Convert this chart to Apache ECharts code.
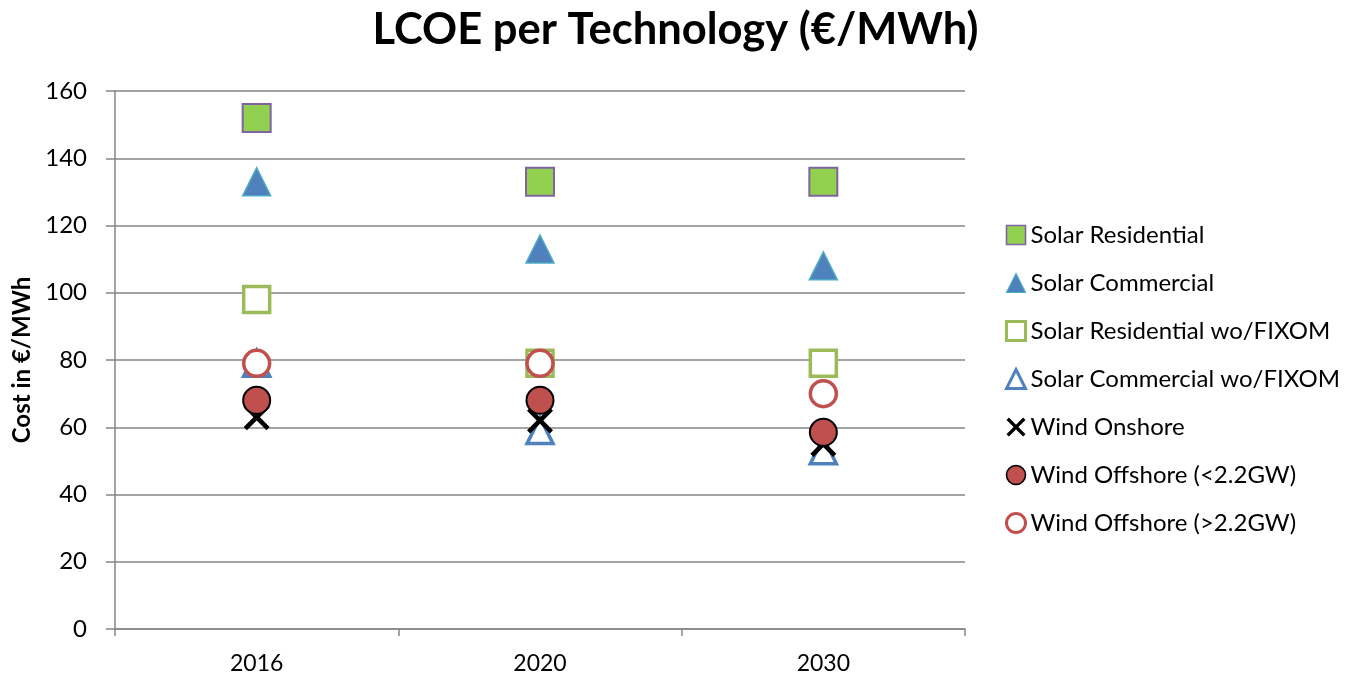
<!DOCTYPE html>
<html>
<head>
<meta charset="utf-8">
<script src="https://cdn.jsdelivr.net/npm/echarts@6/dist/echarts.min.js"></script>
<style>
  html, body { margin: 0; padding: 0; background: #fff; }
  #chart { width: 1351px; height: 675px; }
</style>
</head>
<body>
<div id="chart"></div>
<script>
const years = ['2016', '2020', '2030']
const yTicks = [0, 20, 40, 60, 80, 100, 120, 140, 160]

const solarResidential = [152, 133, 133]
const solarCommercial = [133, 113, 108]
const solarResidentialWo = [98, 79, 79]
const solarCommercialWo = [79, 59, 53]
const windOnshore = [63, 62, 55]
const windOffshoreSmall = [68, 68, 58.5]
const windOffshoreLarge = [79, 79, 70]

const FONT = 'Lato'
// X marker as a filled path (ECharts has no built-in cross)
const crossPath = 'path://M0,2.5 L2.5,0 L10,7.5 L17.5,0 L20,2.5 L12.5,10 L20,17.5 L17.5,20 L10,12.5 L2.5,20 L0,17.5 L7.5,10 Z'

const mk = (name, data, symbol, size, fill, border, bw) => ({
  name,
  type: 'scatter',
  data,
  symbol,
  symbolSize: size,
  itemStyle: { color: fill, borderColor: border, borderWidth: bw, opacity: 1 },
  emphasis: { disabled: true },
})

const series = [
  mk('Solar Residential', solarResidential, 'rect', 28, '#92d050', '#8064a2', 2),
  mk('Solar Commercial', solarCommercial, 'triangle', 28, '#4f81bd', '#4bacc6', 1.5),
  mk('Solar Residential wo/FIXOM', solarResidentialWo, 'rect', 26, '#ffffff', '#9bbb59', 3.5),
  mk('Solar Commercial wo/FIXOM', solarCommercialWo, 'triangle', 26, '#ffffff', '#4f81bd', 3.5),
  mk('Wind Onshore', windOnshore, crossPath, 26, '#000000', '#000000', 0),
  mk('Wind Offshore (<2.2GW)', windOffshoreSmall, 'circle', 27, '#c0504d', '#000000', 2),
  mk('Wind Offshore (>2.2GW)', windOffshoreLarge, 'circle', 26, '#ffffff', '#c0504d', 3.5),
]

// legend icons: thicker outlines like the original
const legendData = series.map(s => ({
  name: s.name,
  itemStyle: { borderWidth: s.itemStyle.borderWidth > 3 ? 3 : s.itemStyle.borderWidth * 0.8 },
}))

const chart = echarts.init(document.getElementById('chart'))
chart.setOption({
  animation: false,
  backgroundColor: '#fff',
  title: {
    text: 'LCOE per Technology (€/MWh)',
    left: 'center',
    top: 3,
    textStyle: { fontFamily: FONT, fontWeight: 'bold', fontSize: 43.5, color: '#000' },
  },
  legend: {
    orient: 'vertical',
    left: 1000,
    top: 218,
    itemWidth: 19,
    itemHeight: 19,
    itemGap: 24,
    data: legendData,
    textStyle: { fontFamily: FONT, fontSize: 24, color: '#000' },
  },
  grid: { left: 115, right: 386, top: 91, bottom: 45 },
  xAxis: {
    type: 'category',
    data: years,
    boundaryGap: true,
    axisLine: { lineStyle: { color: '#868686', width: 1.5 } },
    axisTick: { show: true, length: 7, lineStyle: { color: '#868686', width: 1.5 } },
    axisLabel: { fontFamily: FONT, fontSize: 23, color: '#000', margin: 23 },
    splitLine: { show: false },
  },
  yAxis: {
    type: 'value',
    min: yTicks[0],
    max: yTicks[yTicks.length - 1],
    interval: 20,
    name: 'Cost in €/MWh',
    nameLocation: 'middle',
    nameGap: 73,
    nameTextStyle: { fontFamily: FONT, fontWeight: 'bold', fontSize: 24, color: '#000' },
    axisLine: { show: true, lineStyle: { color: '#868686', width: 1.5 } },
    axisTick: { show: true, length: 9, lineStyle: { color: '#868686', width: 1.5 } },
    axisLabel: { fontFamily: FONT, fontSize: 24, color: '#000', margin: 28 },
    splitLine: { lineStyle: { color: '#868686', width: 1.5 } },
  },
  series,
})
</script>
</body>
</html>
